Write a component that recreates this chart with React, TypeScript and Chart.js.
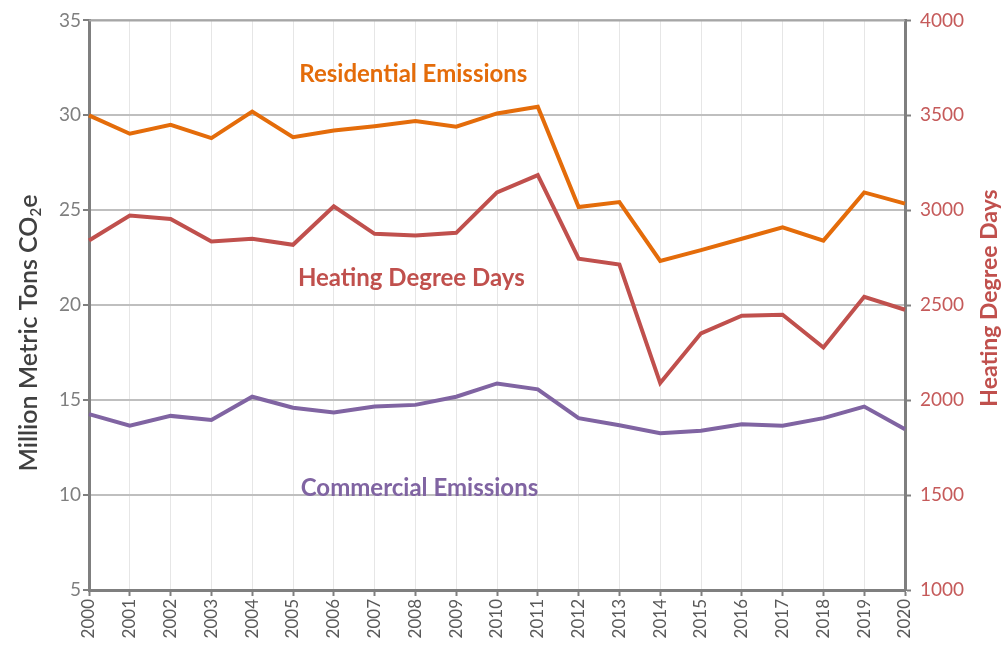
import React, { useEffect, useRef } from "react";
import { Chart, registerables } from "chart.js";

Chart.register(...registerables);

const years = ["2000","2001","2002","2003","2004","2005","2006","2007","2008","2009","2010","2011","2012","2013","2014","2015","2016","2017","2018","2019","2020"];
const residential = [30.0, 29.03, 29.5, 28.8, 30.2, 28.85, 29.2, 29.43, 29.7, 29.4, 30.1, 30.45, 25.17, 25.43, 22.33, 22.9, 23.5, 24.1, 23.4, 25.94, 25.35];
const commercial = [14.26, 13.65, 14.17, 13.96, 15.18, 14.6, 14.35, 14.66, 14.75, 15.18, 15.88, 15.57, 14.05, 13.68, 13.26, 13.39, 13.73, 13.65, 14.05, 14.66, 13.47];
const heatingDegreeDays = [2841, 2972, 2954, 2836, 2850, 2818, 3021, 2876, 2867, 2881, 3094, 3185, 2745, 2714, 2090, 2352, 2445, 2450, 2277, 2544, 2476];

const leftTitle = ["Million Metric Tons CO", "2", "e"];
const rightTitle = "Heating Degree Days";
const seriesLabels = ["Residential Emissions", "Heating Degree Days", "Commercial Emissions"];

const ORANGE = "#E46C0A";
const RED = "#C0504D";
const PURPLE = "#8064A2";
const FONT = "Lato, 'Open Sans', sans-serif";

const overlay = {
  id: "overlay",
  afterDraw(chart: any) {
    const { ctx, chartArea } = chart;
    const x = chart.scales.x;
    const y = chart.scales.y;
    const y2 = chart.scales.y2;
    ctx.save();
    // top border
    ctx.strokeStyle = "#a6a6a6";
    ctx.lineWidth = 2;
    ctx.beginPath();
    ctx.moveTo(chartArea.left, chartArea.top);
    ctx.lineTo(chartArea.right, chartArea.top);
    ctx.stroke();

    // series labels
    ctx.font = `bold 24px ${FONT}`;
    ctx.textAlign = "center";
    ctx.textBaseline = "middle";
    ctx.fillStyle = ORANGE;
    ctx.fillText(seriesLabels[0], x.getPixelForValue(7.95), y.getPixelForValue(32.15));
    ctx.fillStyle = RED;
    ctx.fillText(seriesLabels[1], x.getPixelForValue(7.9), y2.getPixelForValue(2640));
    ctx.fillStyle = PURPLE;
    ctx.fillText(seriesLabels[2], x.getPixelForValue(8.1), y.getPixelForValue(10.35));

    // left title with subscript
    ctx.save();
    ctx.translate(29, 333);
    ctx.rotate(-Math.PI / 2);
    ctx.fillStyle = "#404040";
    ctx.textBaseline = "middle";
    ctx.textAlign = "left";
    const bigFont = `600 25px ${FONT}`;
    const smallFont = `600 15px ${FONT}`;
    ctx.font = bigFont;
    const w0 = ctx.measureText(leftTitle[0]).width;
    const w2 = ctx.measureText(leftTitle[2]).width;
    ctx.font = smallFont;
    const w1 = ctx.measureText(leftTitle[1]).width;
    const total = w0 + w1 + w2;
    let cx = -total / 2;
    ctx.font = bigFont;
    ctx.fillText(leftTitle[0], cx, 0);
    cx += w0;
    ctx.font = smallFont;
    ctx.fillText(leftTitle[1], cx, 7);
    cx += w1;
    ctx.font = bigFont;
    ctx.fillText(leftTitle[2], cx, 0);
    ctx.restore();

    // right title
    ctx.save();
    ctx.translate(990, 298);
    ctx.rotate(-Math.PI / 2);
    ctx.fillStyle = RED;
    ctx.font = `bold 23px ${FONT}`;
    ctx.textAlign = "center";
    ctx.textBaseline = "middle";
    ctx.fillText(rightTitle, 0, 0);
    ctx.restore();

    ctx.restore();
  },
};

export default function App() {
  const ref = useRef<HTMLCanvasElement | null>(null);
  useEffect(() => {
    document.body.style.margin = "0";
    const canvas = ref.current;
    if (!canvas) return;
    const chart = new Chart(canvas, {
      type: "line",
      data: {
        labels: years,
        datasets: [
          { label: seriesLabels[0], data: residential, borderColor: ORANGE, borderWidth: 4, pointRadius: 0, yAxisID: "y", tension: 0 },
          { label: seriesLabels[1], data: heatingDegreeDays, borderColor: RED, borderWidth: 4, pointRadius: 0, yAxisID: "y2", tension: 0 },
          { label: seriesLabels[2], data: commercial, borderColor: PURPLE, borderWidth: 4, pointRadius: 0, yAxisID: "y", tension: 0 },
        ],
      },
      options: {
        animation: false,
        responsive: true,
        maintainAspectRatio: false,
        layout: { padding: { top: 17, left: 0, right: 0, bottom: 0 } },
        plugins: { legend: { display: false }, tooltip: { enabled: false } },
        scales: {
          x: {
            type: "category",
            offset: false,
            grid: { color: "#e6e6e6", lineWidth: 1, tickColor: "#7f7f7f", tickLength: 6, tickWidth: 2 },
            border: { color: "#7f7f7f", width: 3 },
            ticks: { color: "#595959", font: { family: FONT, size: 17 }, maxRotation: 90, minRotation: 90, padding: 3, autoSkip: false },
            afterFit(scale: any) { scale.height = 60; },
          },
          y: {
            position: "left",
            min: 5,
            max: 35,
            ticks: { stepSize: 5, color: "#7f7f7f", font: { family: FONT, size: 19 }, padding: 2 },
            grid: { color: "#bfbfbf", lineWidth: 2, tickColor: "#7f7f7f", tickLength: 6, tickWidth: 2 },
            border: { color: "#7f7f7f", width: 3 },
            afterFit(scale: any) { scale.width = 89; },
          },
          y2: {
            position: "right",
            min: 1000,
            max: 4000,
            ticks: { stepSize: 500, color: "#c55a5a", font: { family: FONT, size: 19 }, padding: 9, callback: (v: any) => String(v) },
            grid: { drawOnChartArea: false, tickColor: "#7f7f7f", tickLength: 6, tickWidth: 2 },
            border: { color: "#7f7f7f", width: 3 },
            afterFit(scale: any) { scale.width = 101; },
          },
        },
      } as any,
      plugins: [overlay],
    });
    return () => chart.destroy();
  }, []);
  return (
    <div style={{ width: 1006, height: 650, position: "relative", background: "#fff" }}>
      <canvas ref={ref} />
    </div>
  );
}
